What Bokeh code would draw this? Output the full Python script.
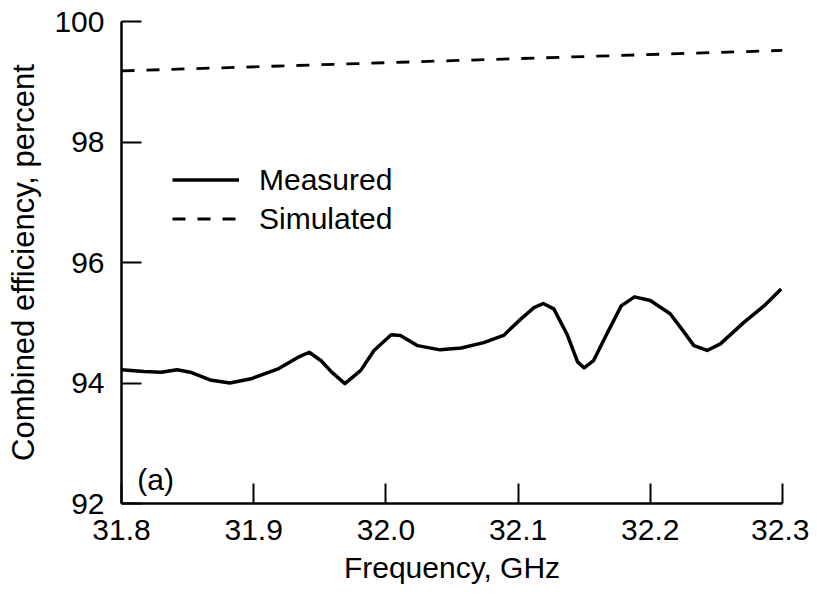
from bokeh.plotting import figure
from bokeh.models import Range1d, FixedTicker, PrintfTickFormatter, Legend, LegendItem, Label, ColumnDataSource
from bokeh.embed import file_html
from bokeh.resources import INLINE

# Data
measured_freq = [31.800, 31.817, 31.830, 31.842, 31.852, 31.867, 31.882, 31.898,
                 31.918, 31.933, 31.942, 31.951, 31.959, 31.969, 31.981, 31.991,
                 32.004, 32.011, 32.024, 32.041, 32.057, 32.074, 32.089, 32.102,
                 32.112, 32.119, 32.127, 32.137, 32.145, 32.150, 32.157, 32.167,
                 32.178, 32.188, 32.200, 32.215, 32.223, 32.233, 32.243, 32.253,
                 32.271, 32.286, 32.299]
measured_eff = [94.22, 94.19, 94.18, 94.22, 94.18, 94.05, 94.00, 94.07,
                94.23, 94.42, 94.51, 94.37, 94.18, 93.99, 94.21, 94.54,
                94.80, 94.79, 94.62, 94.55, 94.58, 94.67, 94.79, 95.06,
                95.25, 95.32, 95.23, 94.81, 94.35, 94.25, 94.37, 94.81,
                95.28, 95.43, 95.37, 95.15, 94.92, 94.62, 94.54, 94.65,
                95.01, 95.28, 95.56]
simulated_freq = [31.80, 32.05, 32.30]
simulated_eff = [99.18, 99.35, 99.52]

x_ticks = [31.8, 31.9, 32.0, 32.1, 32.2, 32.3]
y_ticks = [92, 94, 96, 98, 100]

FONT = "Liberation Sans"

p = figure(width=809, height=586, output_backend="svg", toolbar_location=None,
           x_range=Range1d(31.8, 32.3), y_range=Range1d(92, 100),
           min_border_left=121, min_border_right=27, min_border_top=21, min_border_bottom=83)
p.outline_line_color = None
p.grid.visible = False

src_m = ColumnDataSource(dict(x=measured_freq, y=measured_eff))
src_s = ColumnDataSource(dict(x=simulated_freq, y=simulated_eff))
r_m = p.line("x", "y", source=src_m, line_color="black", line_width=3.5, line_join="round")
r_s = p.line("x", "y", source=src_s, line_color="black", line_width=2.8, line_dash="13 12")

for ax in (p.xaxis[0], p.yaxis[0]):
    ax.axis_line_width = 2.5
    ax.axis_line_color = "black"
    ax.major_tick_line_width = 2
    ax.major_tick_line_color = "black"
    ax.major_tick_in = 20
    ax.major_tick_out = 0
    ax.minor_tick_line_color = None
    ax.major_label_text_font = FONT
    ax.major_label_text_font_size = "30px"
    ax.major_label_text_color = "black"
    ax.axis_label_text_font = FONT
    ax.axis_label_text_font_style = "normal"
    ax.axis_label_text_color = "black"

p.xaxis.ticker = FixedTicker(ticks=x_ticks)
p.yaxis.ticker = FixedTicker(ticks=y_ticks)
p.xaxis.formatter = PrintfTickFormatter(format="%.1f")
p.yaxis.formatter = PrintfTickFormatter(format="%d")
p.xaxis.axis_label = "Frequency, GHz"
p.yaxis.axis_label = "Combined efficiency, percent"
p.xaxis.axis_label_text_font_size = "30px"
p.yaxis.axis_label_text_font_size = "31px"
p.xaxis.major_label_standoff = 16
p.yaxis.major_label_standoff = 17
p.xaxis.axis_label_standoff = 8
p.yaxis.axis_label_standoff = 10

legend = Legend(items=[LegendItem(label="Measured", renderers=[r_m]),
                       LegendItem(label="Simulated", renderers=[r_s])],
                location=(51, 265), padding=0, margin=0, spacing=0,
                border_line_color=None, background_fill_alpha=0,
                glyph_width=67, glyph_height=39, label_height=39, label_standoff=20,
                label_text_font=FONT, label_text_font_size="30px", label_text_color="black")
p.add_layout(legend)

p.add_layout(Label(x=31.812, y=92.4, text="(a)", text_font=FONT, text_font_size="30px",
                   text_baseline="middle", text_color="black"))

open("out.html", "w").write(file_html(p, INLINE))
